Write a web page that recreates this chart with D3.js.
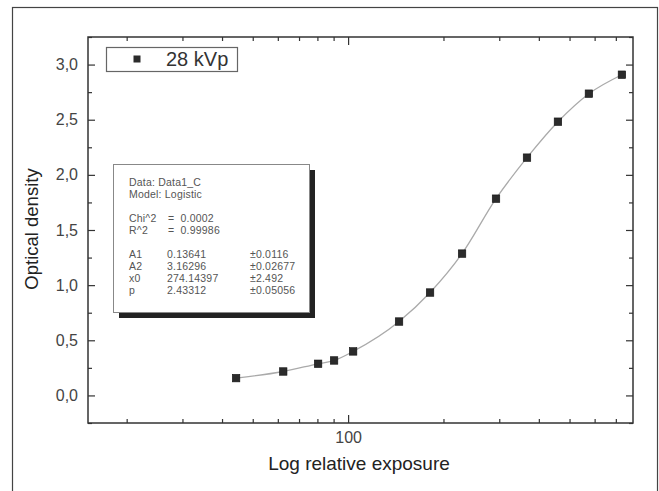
<!DOCTYPE html>
<html lang="en">

<head>
    <meta charset="UTF-8">
    <title>Optical density vs log relative exposure</title>
    <script src="https://d3js.org/d3.v7.min.js"></script>
    <style>
        body {
            margin: 0;
            background-color: #fff;
            font-family: Arial, 'Liberation Sans', sans-serif;
        }

        .axis text {
            font-size: 16px;
            fill: #444;
        }

        .axis line {
            stroke: #333;
            stroke-width: 1.2;
        }

        .axis path {
            display: none;
        }

        .stats text {
            font-size: 10.5px;
            letter-spacing: 0.2px;
            fill: #555;
        }
    </style>
</head>

<body>
    <div id="chart"></div>
    <script>
        // measured points (log relative exposure, optical density)
        const exposure = [44.3, 62.4, 80.4, 90.3, 103.7, 144.8, 181.4, 228.9, 293, 367, 459.6, 575.6, 731.7];
        const density = [0.157, 0.217, 0.287, 0.317, 0.399, 0.670, 0.933, 1.286, 1.784, 2.156, 2.482, 2.736, 2.908];

        const yMajorTicks = [0, 0.5, 1.0, 1.5, 2.0, 2.5, 3.0];
        const yMinorTicks = [-0.25, 0.25, 0.75, 1.25, 1.75, 2.25, 2.75, 3.25];
        const xMajorTicks = [100];
        const xMinorTicks = [20, 30, 40, 50, 60, 70, 80, 90, 200, 300, 400, 500, 600, 700];

        const seriesName = "28 kVp";
        const statsHeader = ["Data: Data1_C", "Model: Logistic"];
        const fitStats = [["Chi^2", "=  0.0002"], ["R^2", "=  0.99986"]];
        const fitParams = [
            ["A1", "0.13641", "\u00b10.0116"],
            ["A2", "3.16296", "\u00b10.02677"],
            ["x0", "274.14397", "\u00b12.492"],
            ["p", "2.43312", "\u00b10.05056"]
        ];

        const width = 659, height = 491;
        const plot = { left: 88, top: 37, right: 633, bottom: 423 };

        let svg = d3.select("#chart").append("svg")
            .attr("width", width)
            .attr("height", height);

        // outer frame
        svg.append("rect")
            .attr("x", 12.5).attr("y", 7.5)
            .attr("width", 645).attr("height", 500)
            .attr("fill", "none")
            .attr("stroke", "#444")
            .attr("stroke-width", 1.2);

        let x = d3.scaleLog()
            .domain([15.1, 793])
            .range([plot.left, plot.right]);

        let y = d3.scaleLinear()
            .domain([-0.25, 3.25])
            .range([plot.bottom, plot.top]);

        let fmt = d => d.toFixed(1).replace(".", ",");

        // left axis
        svg.append("g").attr("class", "axis")
            .attr("transform", `translate(${plot.left},0)`)
            .call(d3.axisLeft(y).tickValues(yMajorTicks).tickFormat(fmt)
                .tickSizeInner(-7).tickSizeOuter(0).tickPadding(10));
        svg.append("g").attr("class", "axis")
            .attr("transform", `translate(${plot.left},0)`)
            .call(d3.axisLeft(y).tickValues(yMinorTicks).tickFormat("")
                .tickSizeInner(-4).tickSizeOuter(0));

        // right axis
        svg.append("g").attr("class", "axis")
            .attr("transform", `translate(${plot.right},0)`)
            .call(d3.axisRight(y).tickValues(yMajorTicks).tickFormat("")
                .tickSizeInner(-7).tickSizeOuter(0));
        svg.append("g").attr("class", "axis")
            .attr("transform", `translate(${plot.right},0)`)
            .call(d3.axisRight(y).tickValues(yMinorTicks).tickFormat("")
                .tickSizeInner(-4).tickSizeOuter(0));

        // bottom axis
        svg.append("g").attr("class", "axis")
            .attr("transform", `translate(0,${plot.bottom})`)
            .call(d3.axisBottom(x).tickValues(xMajorTicks).tickFormat(d3.format("d"))
                .tickSizeInner(-8).tickSizeOuter(0).tickPadding(9));
        svg.append("g").attr("class", "axis")
            .attr("transform", `translate(0,${plot.bottom})`)
            .call(d3.axisBottom(x).tickValues(xMinorTicks).tickFormat("")
                .tickSizeInner(-4).tickSizeOuter(0));

        // top axis
        svg.append("g").attr("class", "axis")
            .attr("transform", `translate(0,${plot.top})`)
            .call(d3.axisTop(x).tickValues(xMajorTicks).tickFormat("")
                .tickSizeInner(-8).tickSizeOuter(0));
        svg.append("g").attr("class", "axis")
            .attr("transform", `translate(0,${plot.top})`)
            .call(d3.axisTop(x).tickValues(xMinorTicks).tickFormat("")
                .tickSizeInner(-4).tickSizeOuter(0));

        // plot frame
        svg.append("rect")
            .attr("x", plot.left).attr("y", plot.top)
            .attr("width", plot.right - plot.left)
            .attr("height", plot.bottom - plot.top)
            .attr("fill", "none")
            .attr("stroke", "#333")
            .attr("stroke-width", 1.5);

        // axis titles
        svg.append("text")
            .attr("transform", "translate(38,229) rotate(-90)")
            .attr("text-anchor", "middle")
            .style("font-size", "18.5px")
            .style("fill", "#222")
            .text("Optical density");

        svg.append("text")
            .attr("x", 359).attr("y", 470)
            .attr("text-anchor", "middle")
            .style("font-size", "19px")
            .style("fill", "#222")
            .text("Log relative exposure");

        // fit curve through the points
        let points = exposure.map((e, i) => [e, density[i]]);
        let line = d3.line()
            .x(d => x(d[0]))
            .y(d => y(d[1]))
            .curve(d3.curveMonotoneX);

        svg.append("path")
            .datum(points)
            .attr("d", line)
            .attr("fill", "none")
            .attr("stroke", "#aaa")
            .attr("stroke-width", 1.3);

        let ms = 7.5;
        svg.selectAll(".pt")
            .data(points)
            .enter()
            .append("rect")
            .attr("class", "pt")
            .attr("x", d => x(d[0]) - ms / 2)
            .attr("y", d => y(d[1]) - ms / 2)
            .attr("width", ms)
            .attr("height", ms)
            .attr("fill", "#2b2b2b")
            .attr("stroke", "#111")
            .attr("stroke-width", 0.6);

        // legend
        svg.append("rect")
            .attr("x", 106.5).attr("y", 47.5)
            .attr("width", 131).attr("height", 24)
            .attr("fill", "#fff")
            .attr("stroke", "#666")
            .attr("stroke-width", 1.2);
        svg.append("rect")
            .attr("x", 137 - 3.5).attr("y", 59 - 3.5)
            .attr("width", 7).attr("height", 7)
            .attr("fill", "#2b2b2b");
        svg.append("text")
            .attr("x", 166).attr("y", 66)
            .style("font-size", "20px")
            .style("fill", "#333")
            .text(seriesName);

        // stats box with shadow
        let stats = svg.append("g").attr("class", "stats");
        stats.append("rect")
            .attr("x", 119).attr("y", 170)
            .attr("width", 196).attr("height", 148)
            .attr("fill", "#222");
        stats.append("rect")
            .attr("x", 113.5).attr("y", 164.5)
            .attr("width", 196).attr("height", 148)
            .attr("fill", "#fff")
            .attr("stroke", "#888");

        let rowY = 186;
        statsHeader.forEach(t => {
            stats.append("text").attr("x", 129).attr("y", rowY).text(t);
            rowY += 12;
        });
        rowY += 12;
        fitStats.forEach(r => {
            stats.append("text").attr("x", 129).attr("y", rowY).text(r[0]);
            stats.append("text").attr("x", 168).attr("y", rowY)
                .style("white-space", "pre").text(r[1]);
            rowY += 12;
        });
        rowY += 12;
        fitParams.forEach(r => {
            stats.append("text").attr("x", 129).attr("y", rowY).text(r[0]);
            stats.append("text").attr("x", 167).attr("y", rowY).text(r[1]);
            stats.append("text").attr("x", 250).attr("y", rowY).text(r[2]);
            rowY += 12;
        });
    </script>
</body>

</html>
